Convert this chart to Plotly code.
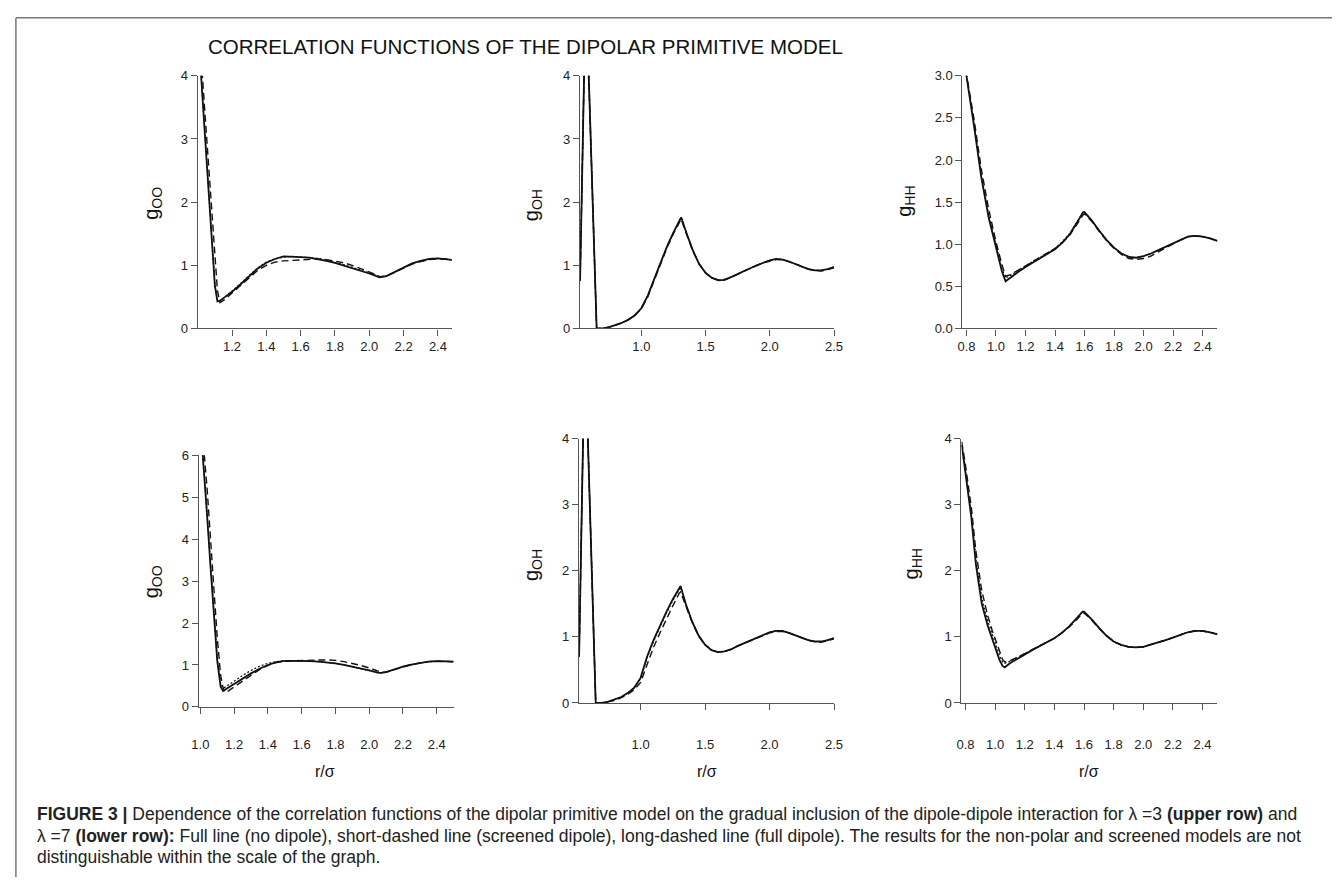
import plotly.graph_objects as go

W, H = 1341, 885

# ---------------- data ----------------
# Top-left: g_OO, lambda = 3
r_oo3 = [1.015, 1.02, 1.04, 1.06, 1.08, 1.10, 1.115, 1.13, 1.16, 1.2, 1.25, 1.3, 1.35, 1.4, 1.45,
         1.5, 1.55, 1.6, 1.65, 1.7, 1.75, 1.8, 1.85, 1.9, 1.95, 2.0, 2.03, 2.06, 2.1, 2.15, 2.2,
         2.25, 2.3, 2.35, 2.4, 2.45, 2.5]
g_oo3_full = [4.4, 4.0, 3.15, 2.3, 1.48, 0.68, 0.43, 0.44, 0.5, 0.58, 0.7, 0.83, 0.95, 1.04, 1.1,
              1.14, 1.14, 1.13, 1.12, 1.10, 1.07, 1.04, 1.0, 0.96, 0.91, 0.87, 0.84, 0.81, 0.83, 0.9, 0.97,
              1.03, 1.07, 1.1, 1.11, 1.1, 1.08]
g_oo3_screen = [4.4, 4.0, 3.17, 2.32, 1.5, 0.7, 0.44, 0.44, 0.5, 0.59, 0.71, 0.84, 0.96, 1.05, 1.1,
                1.13, 1.14, 1.13, 1.12, 1.11, 1.08, 1.05, 1.01, 0.97, 0.92, 0.88, 0.85, 0.82, 0.83, 0.9, 0.97,
                1.03, 1.07, 1.1, 1.11, 1.1, 1.08]
g_oo3_dip = [4.6, 4.3, 3.5, 2.7, 1.9, 1.05, 0.6, 0.41, 0.46, 0.56, 0.68, 0.8, 0.92, 1.0, 1.05,
             1.07, 1.08, 1.09, 1.1, 1.1, 1.09, 1.07, 1.04, 1.0, 0.95, 0.9, 0.86, 0.82, 0.83, 0.89, 0.96,
             1.02, 1.06, 1.09, 1.1, 1.1, 1.07]

# Top-middle: g_OH, lambda = 3
r_oh3 = [0.523, 0.568, 0.652, 0.70, 0.75, 0.8, 0.85, 0.9, 0.95, 1.0, 1.05, 1.1, 1.15, 1.2, 1.25,
         1.3, 1.31, 1.35, 1.4, 1.45, 1.5, 1.55, 1.6, 1.65, 1.7, 1.75, 1.8, 1.85, 1.9, 1.95, 2.0,
         2.05, 2.1, 2.15, 2.2, 2.25, 2.3, 2.35, 2.4, 2.45, 2.5]
g_oh3_full = [0.75, 5.45, 0.0, 0.0, 0.02, 0.05, 0.09, 0.14, 0.21, 0.32, 0.52, 0.78, 1.05, 1.3, 1.52,
              1.74, 1.76, 1.52, 1.24, 1.02, 0.88, 0.8, 0.76, 0.77, 0.81, 0.86, 0.91, 0.96, 1.0, 1.04, 1.08,
              1.1, 1.09, 1.06, 1.02, 0.98, 0.94, 0.92, 0.92, 0.94, 0.97]
g_oh3_screen = [0.75, 5.45, 0.0, 0.0, 0.02, 0.05, 0.09, 0.14, 0.21, 0.32, 0.52, 0.78, 1.05, 1.3, 1.52,
                1.74, 1.76, 1.52, 1.24, 1.02, 0.88, 0.8, 0.76, 0.77, 0.81, 0.86, 0.91, 0.96, 1.0, 1.04, 1.08,
                1.1, 1.09, 1.06, 1.02, 0.98, 0.94, 0.92, 0.92, 0.94, 0.97]
g_oh3_dip = [0.75, 5.45, 0.0, 0.0, 0.02, 0.05, 0.09, 0.14, 0.21, 0.31, 0.5, 0.76, 1.03, 1.28, 1.5,
             1.71, 1.73, 1.5, 1.23, 1.02, 0.88, 0.8, 0.77, 0.78, 0.81, 0.86, 0.91, 0.96, 1.0, 1.04, 1.07,
             1.09, 1.09, 1.06, 1.02, 0.98, 0.94, 0.92, 0.91, 0.93, 0.96]

# Top-right: g_HH, lambda = 3
r_hh3 = [0.79, 0.80, 0.85, 0.90, 0.95, 1.0, 1.04, 1.065, 1.1, 1.15, 1.2, 1.25, 1.3, 1.35, 1.4,
         1.45, 1.5, 1.55, 1.59, 1.6, 1.65, 1.7, 1.75, 1.8, 1.85, 1.9, 1.95, 2.0, 2.05, 2.1, 2.15,
         2.2, 2.25, 2.3, 2.35, 2.4, 2.45, 2.5]
g_hh3_full = [3.2, 3.0, 2.42, 1.8, 1.32, 0.95, 0.68, 0.56, 0.61, 0.67, 0.73, 0.78, 0.83, 0.88, 0.94,
              1.02, 1.12, 1.26, 1.38, 1.38, 1.28, 1.16, 1.05, 0.96, 0.89, 0.85, 0.84, 0.86, 0.89, 0.93, 0.97,
              1.01, 1.05, 1.09, 1.1, 1.09, 1.07, 1.04]
g_hh3_screen = [3.2, 3.0, 2.44, 1.83, 1.35, 0.98, 0.71, 0.6, 0.63, 0.69, 0.74, 0.79, 0.84, 0.89, 0.95,
                1.03, 1.13, 1.27, 1.38, 1.38, 1.28, 1.16, 1.05, 0.96, 0.89, 0.85, 0.84, 0.86, 0.89, 0.93, 0.97,
                1.01, 1.05, 1.09, 1.1, 1.09, 1.07, 1.04]
g_hh3_dip = [3.2, 3.02, 2.5, 1.9, 1.42, 1.03, 0.76, 0.62, 0.64, 0.69, 0.74, 0.79, 0.84, 0.89, 0.95,
             1.02, 1.11, 1.24, 1.35, 1.36, 1.27, 1.15, 1.04, 0.95, 0.88, 0.83, 0.82, 0.83, 0.86, 0.91, 0.96,
             1.01, 1.05, 1.09, 1.1, 1.09, 1.07, 1.04]

# Bottom-left: g_OO, lambda = 7
r_oo7 = [1.005, 1.015, 1.04, 1.06, 1.08, 1.10, 1.12, 1.135, 1.15, 1.2, 1.25, 1.3, 1.35, 1.4, 1.45,
         1.5, 1.55, 1.6, 1.65, 1.7, 1.75, 1.8, 1.85, 1.9, 1.95, 2.0, 2.05, 2.07, 2.1, 2.15, 2.2,
         2.25, 2.3, 2.35, 2.4, 2.45, 2.5]
g_oo7_full = [6.5, 6.0, 4.55, 3.35, 2.2, 1.1, 0.48, 0.38, 0.42, 0.55, 0.68, 0.8, 0.91, 1.0, 1.07,
              1.1, 1.1, 1.1, 1.09, 1.08, 1.06, 1.04, 1.0, 0.96, 0.91, 0.87, 0.82, 0.81, 0.83, 0.9, 0.96,
              1.01, 1.05, 1.08, 1.09, 1.09, 1.08]
g_oo7_screen = [6.5, 6.0, 4.6, 3.4, 2.25, 1.15, 0.55, 0.45, 0.48, 0.62, 0.75, 0.87, 0.97, 1.04, 1.08,
                1.1, 1.1, 1.1, 1.09, 1.08, 1.06, 1.04, 1.0, 0.96, 0.91, 0.87, 0.82, 0.81, 0.83, 0.9, 0.96,
                1.01, 1.05, 1.08, 1.09, 1.09, 1.08]
g_oo7_dip = [6.8, 6.4, 5.2, 4.0, 2.8, 1.65, 0.75, 0.45, 0.34, 0.48, 0.62, 0.76, 0.89, 0.99, 1.06,
             1.09, 1.1, 1.1, 1.11, 1.12, 1.12, 1.11, 1.08, 1.04, 0.99, 0.93, 0.86, 0.83, 0.83, 0.89, 0.95,
             1.01, 1.05, 1.08, 1.09, 1.09, 1.08]

# Bottom-middle: g_OH, lambda = 7
r_oh7 = [0.523, 0.568, 0.652, 0.70, 0.75, 0.8, 0.85, 0.9, 0.95, 1.0, 1.05, 1.1, 1.15, 1.2, 1.25,
         1.3, 1.31, 1.35, 1.4, 1.45, 1.5, 1.55, 1.6, 1.65, 1.7, 1.75, 1.8, 1.85, 1.9, 1.95, 2.0,
         2.05, 2.1, 2.15, 2.2, 2.25, 2.3, 2.35, 2.4, 2.45, 2.5]
g_oh7_full = [0.7, 5.5, 0.0, 0.0, 0.02, 0.05, 0.09, 0.15, 0.23, 0.38, 0.7, 0.95, 1.17, 1.38, 1.57,
              1.75, 1.77, 1.5, 1.23, 1.02, 0.88, 0.8, 0.77, 0.78, 0.81, 0.86, 0.9, 0.95, 0.99, 1.03, 1.07,
              1.09, 1.09, 1.06, 1.02, 0.98, 0.95, 0.93, 0.93, 0.95, 0.98]
g_oh7_screen = [0.7, 5.5, 0.0, 0.0, 0.02, 0.05, 0.09, 0.15, 0.23, 0.37, 0.68, 0.93, 1.15, 1.36, 1.55,
                1.73, 1.75, 1.5, 1.23, 1.02, 0.88, 0.8, 0.77, 0.78, 0.81, 0.86, 0.9, 0.95, 0.99, 1.03, 1.07,
                1.09, 1.09, 1.06, 1.02, 0.98, 0.95, 0.93, 0.93, 0.95, 0.98]
g_oh7_dip = [0.7, 5.5, 0.0, 0.0, 0.02, 0.04, 0.08, 0.13, 0.2, 0.31, 0.58, 0.84, 1.06, 1.27, 1.47,
             1.66, 1.68, 1.47, 1.22, 1.01, 0.88, 0.8, 0.77, 0.78, 0.81, 0.86, 0.9, 0.95, 0.99, 1.03, 1.06,
             1.08, 1.08, 1.06, 1.02, 0.98, 0.95, 0.93, 0.92, 0.94, 0.97]

# Bottom-right: g_HH, lambda = 7
r_hh7 = [0.775, 0.80, 0.84, 0.87, 0.91, 0.95, 0.98, 1.0, 1.03, 1.05, 1.065, 1.1, 1.15, 1.2, 1.25,
         1.3, 1.35, 1.4, 1.45, 1.5, 1.55, 1.59, 1.6, 1.65, 1.7, 1.75, 1.8, 1.85, 1.9, 1.95, 2.0,
         2.05, 2.1, 2.15, 2.2, 2.25, 2.3, 2.35, 2.4, 2.45, 2.5]
g_hh7_full = [3.9, 3.5, 2.8, 2.1, 1.5, 1.17, 0.97, 0.85, 0.65, 0.56, 0.54, 0.6, 0.67, 0.74, 0.8,
              0.86, 0.92, 0.98, 1.06, 1.16, 1.28, 1.38, 1.38, 1.27, 1.14, 1.02, 0.93, 0.88, 0.85, 0.84, 0.85,
              0.88, 0.91, 0.95, 0.99, 1.03, 1.07, 1.09, 1.09, 1.07, 1.04]
g_hh7_screen = [3.9, 3.52, 2.85, 2.18, 1.58, 1.24, 1.04, 0.92, 0.72, 0.62, 0.6, 0.63, 0.69, 0.75, 0.81,
                0.87, 0.92, 0.98, 1.06, 1.16, 1.28, 1.38, 1.38, 1.27, 1.14, 1.02, 0.93, 0.88, 0.85, 0.84, 0.85,
                0.88, 0.91, 0.95, 0.99, 1.03, 1.07, 1.09, 1.09, 1.07, 1.04]
g_hh7_dip = [3.95, 3.6, 2.95, 2.3, 1.7, 1.32, 1.1, 0.98, 0.78, 0.66, 0.62, 0.64, 0.69, 0.75, 0.81,
             0.87, 0.92, 0.98, 1.06, 1.15, 1.26, 1.36, 1.36, 1.26, 1.13, 1.02, 0.93, 0.88, 0.85, 0.84, 0.85,
             0.88, 0.91, 0.95, 0.99, 1.03, 1.07, 1.09, 1.09, 1.07, 1.04]

# axis ticks
xt_oo3 = [1.2, 1.4, 1.6, 1.8, 2.0, 2.2, 2.4]
xt_oo7 = [1.0, 1.2, 1.4, 1.6, 1.8, 2.0, 2.2, 2.4]
xt_oh = [1.0, 1.5, 2.0, 2.5]
xt_hh = [0.8, 1.0, 1.2, 1.4, 1.6, 1.8, 2.0, 2.2, 2.4]
yt_04 = [0, 1, 2, 3, 4]
yt_06 = [0, 1, 2, 3, 4, 5, 6]
yt_hh3 = [0.0, 0.5, 1.0, 1.5, 2.0, 2.5, 3.0]

title_text = "CORRELATION FUNCTIONS OF THE DIPOLAR PRIMITIVE MODEL"
caption_lines = [
    "<b>FIGURE 3 |</b> Dependence of the correlation functions of the dipolar primitive model on the gradual inclusion of the dipole-dipole interaction for λ =3 <b>(upper row)</b> and",
    "λ =7 <b>(lower row):</b> Full line (no dipole), short-dashed line (screened dipole), long-dashed line (full dipole). The results for the non-polar and screened models are not",
    "distinguishable within the scale of the graph.",
]

# ---------------- layout helpers ----------------
def px_x(p):
    return p / W

def px_y(p):
    return 1 - p / H

FONT = "Liberation Sans, Arial, sans-serif"

panels = [
    # (r, full, screen, dip, xdom px, ydom px, xrange, yrange, xticks, yticks, ytickfmt, label, label pos, bottom row)
    (r_oo3, g_oo3_full, g_oo3_screen, g_oo3_dip, (193, 450), (70, 327), [1.0, 2.48], [0, 4], xt_oo3, yt_04, None, "g<sub>OO</sub>", (147, 200), False),
    (r_oh3, g_oh3_full, g_oh3_screen, g_oh3_dip, (580, 837), (70, 327), [0.523, 2.5], [0, 4], xt_oh, yt_04, None, "g<sub>OH</sub>", (532, 202), False),
    (r_hh3, g_hh3_full, g_hh3_screen, g_hh3_dip, (967, 1225), (70, 327), [0.773, 2.5], [0, 3], xt_hh, yt_hh3, ".1f", "g<sub>HH</sub>", (909, 198), False),
    (r_oo7, g_oo7_full, g_oo7_screen, g_oo7_dip, (194, 452), (456, 712), [0.99, 2.5], [0, 6], xt_oo7, yt_06, None, "g<sub>OO</sub>", (147, 585), True),
    (r_oh7, g_oh7_full, g_oh7_screen, g_oh7_dip, (579, 837), (439, 708), [0.523, 2.5], [0, 4], xt_oh, yt_04, None, "g<sub>OH</sub>", (532, 568), True),
    (r_hh7, g_hh7_full, g_hh7_screen, g_hh7_dip, (966, 1225), (439, 708), [0.773, 2.5], [0, 4], xt_hh, yt_04, None, "g<sub>HH</sub>", (916, 567), True),
]

fig = go.Figure()
layout = {}
annotations = []

for i, (r, gf, gs, gd, xd, yd, xr, yr, xt, yt, yfmt, lab, lpos, bottom) in enumerate(panels):
    n = "" if i == 0 else str(i + 1)
    xa, ya = "x" + n, "y" + n
    fig.add_trace(go.Scatter(x=r, y=gd, xaxis=xa, yaxis=ya, mode="lines",
                             line=dict(color="#111", width=1.4, dash="7px,4px"), showlegend=False))
    fig.add_trace(go.Scatter(x=r, y=gs, xaxis=xa, yaxis=ya, mode="lines",
                             line=dict(color="#111", width=1.2, dash="2px,2px"), showlegend=False))
    fig.add_trace(go.Scatter(x=r, y=gf, xaxis=xa, yaxis=ya, mode="lines",
                             line=dict(color="#111", width=1.8), showlegend=False))
    axis_common = dict(showline=True, linecolor="#555", linewidth=1.3, ticks="outside", ticklen=6,
                       tickcolor="#555", tickwidth=1, showgrid=False, zeroline=False,
                       tickfont=dict(family=FONT, size=13, color="#222"), fixedrange=True)
    xaxis = dict(axis_common, domain=[px_x(xd[0]), px_x(xd[1])], range=xr,
                 tickvals=xt, ticktext=[f"{v:.1f}" for v in xt], anchor=ya)
    if bottom:
        xaxis["ticklabelstandoff"] = 23 - (yd[1] - 708)
    layout["xaxis" + n] = xaxis
    ytext = [f"{v:.1f}" for v in yt] if yfmt else [str(v) for v in yt]
    layout["yaxis" + n] = dict(axis_common, domain=[px_y(yd[1]), px_y(yd[0])], range=yr,
                               tickvals=yt, ticktext=ytext, anchor=xa)
    annotations.append(dict(text=lab, x=px_x(lpos[0]), y=px_y(lpos[1]), xref="paper", yref="paper",
                            textangle=-90, showarrow=False, xanchor="center", yanchor="middle",
                            font=dict(family=FONT, size=20, color="#111")))

# x-axis titles under bottom row
for xc in (322, 708, 1095):
    annotations.append(dict(text="r/σ", x=px_x(xc), y=px_y(778), xref="paper", yref="paper",
                            showarrow=False, xanchor="center", yanchor="middle",
                            font=dict(family=FONT, size=16, color="#111")))

# title
annotations.append(dict(text=title_text, x=px_x(525), y=px_y(40), xref="paper", yref="paper",
                        showarrow=False, xanchor="center", yanchor="middle",
                        font=dict(family=FONT, size=20.5, color="#111")))

# caption
for k, (line, yc) in enumerate(zip(caption_lines, (821, 843, 865))):
    annotations.append(dict(text=line, x=px_x(28), y=px_y(yc), xref="paper", yref="paper",
                            showarrow=False, xanchor="left", yanchor="middle",
                            font=dict(family=FONT, size=17.5, color="#222")))

shapes = [
    dict(type="line", xref="paper", yref="paper", x0=px_x(9), x1=1.0, y0=px_y(11), y1=px_y(11),
         line=dict(color="#777", width=1.5)),
    dict(type="line", xref="paper", yref="paper", x0=px_x(9), x1=px_x(9), y0=px_y(11), y1=0.0,
         line=dict(color="#777", width=1.5)),
]

fig.update_layout(width=W, height=H, margin=dict(l=0, r=0, t=0, b=0),
                  paper_bgcolor="white", plot_bgcolor="white",
                  annotations=annotations, shapes=shapes, showlegend=False, **layout)

fig.write_html("out.html", config={"displayModeBar": False})
